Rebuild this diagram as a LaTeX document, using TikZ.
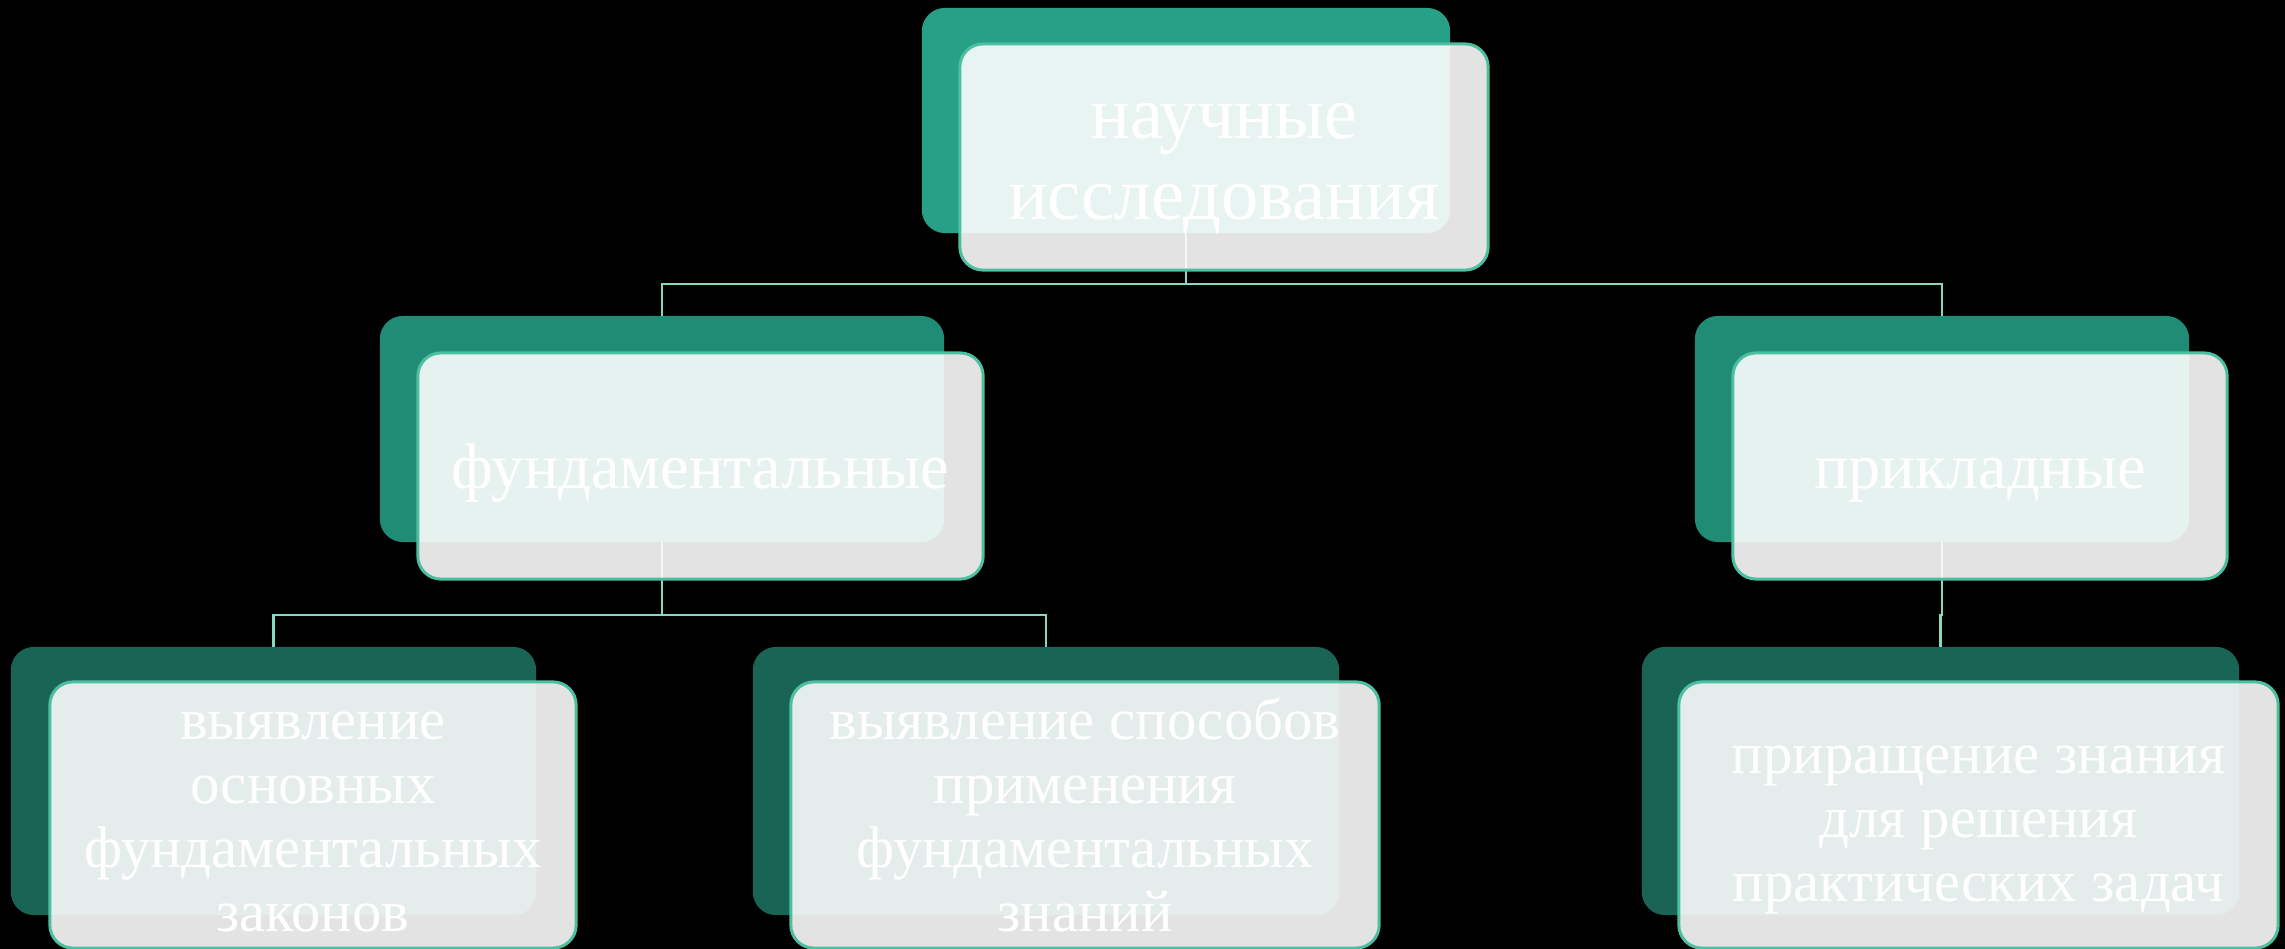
\documentclass[tikz,border=0pt]{standalone}
\usepackage{fontspec}
\setmainfont{Liberation Serif}
\definecolor{lvA}{HTML}{26A187}
\definecolor{lvB}{HTML}{218C75}
\definecolor{lvC}{HTML}{1A6455}
\definecolor{edgec}{HTML}{4CBFA1}
\definecolor{connc}{HTML}{86D9C3}
\tikzset{
  backbox/.style={rectangle, rounded corners=0.23cm, inner sep=0pt, outer sep=0pt, draw=none},
  frontbox/.style={rectangle, rounded corners=0.23cm, inner sep=0pt, outer sep=0pt,
     draw=edgec, line width=0.85pt, fill=white, fill opacity=0.89},
  link/.style={draw=connc, line width=0.7pt},
  lbl/.style={text=white, inner sep=0pt, align=center},
  toptxt/.style={font=\fontsize{21.2}{22.8}\selectfont},
  bigtxt/.style={font=\fontsize{18.3}{22.8}\selectfont},
  smalltxt/.style={font=\fontsize{16.7}{18.2}\selectfont}
}
\begin{document}
\begin{tikzpicture}[x=0.01cm, y=-0.01cm]
\fill[black] (0,0) rectangle (2285,949);
\useasboundingbox (0,0) rectangle (2285,949);

% back boxes
\node[backbox, fill=lvA, minimum width=5.28cm, minimum height=2.25cm] (top) at (1186,120.5) {};
\node[backbox, fill=lvB, minimum width=5.64cm, minimum height=2.26cm] (fund) at (662,429) {};
\node[backbox, fill=lvB, minimum width=4.94cm, minimum height=2.26cm] (appl) at (1942,429) {};
\node[backbox, fill=lvC, minimum width=5.25cm, minimum height=2.68cm] (fa) at (273.5,781) {};
\node[backbox, fill=lvC, minimum width=5.86cm, minimum height=2.68cm] (fb) at (1046,781) {};
\node[backbox, fill=lvC, minimum width=5.97cm, minimum height=2.68cm] (ap) at (1940.5,781) {};

% connectors
\draw[link] (top.south) -- (top.south |- 0,284) -| (fund.north);
\draw[link] (top.south) -- (top.south |- 0,284) -| (appl.north);
\draw[link] (fund.south) -- (fund.south |- 0,615) -| (fa.north);
\draw[link] (fund.south) -- (fund.south |- 0,615) -| (fb.north);
\draw[link] (appl.south) -- (appl.south |- 0,615) -| (ap.north);

% front boxes
\node[frontbox, minimum width=5.28cm, minimum height=2.26cm] (topF) at (1224,157) {};
\node[frontbox, minimum width=5.65cm, minimum height=2.26cm] (fundF) at (700.5,466) {};
\node[frontbox, minimum width=4.94cm, minimum height=2.26cm] (applF) at (1980,466) {};
\node[frontbox, minimum width=5.26cm, minimum height=2.66cm] (faF) at (313,815) {};
\node[frontbox, minimum width=5.88cm, minimum height=2.66cm] (fbF) at (1085,815) {};
\node[frontbox, minimum width=5.99cm, minimum height=2.66cm] (apF) at (1978.5,815) {};

% texts
\node[lbl, toptxt] (topT) at (1224,163) {\strut научные\\\strut исследования};
\node[lbl, bigtxt] (fundT) at (700.5,472) {\strut фундаментальные};
\node[lbl, bigtxt] (applT) at (1980,472) {\strut прикладные};
\node[lbl, smalltxt] (faT) at (313,823) {\strut выявление\\\strut основных\\\strut фундаментальных\\\strut законов};
\node[lbl, smalltxt] (fbT) at (1085,823) {\strut выявление способов\\\strut применения\\\strut фундаментальных\\\strut знаний};
\node[lbl, smalltxt] (apT) at (1978.5,825) {\strut приращение знания\\\strut для решения\\\strut практических задач};
\end{tikzpicture}
\end{document}
